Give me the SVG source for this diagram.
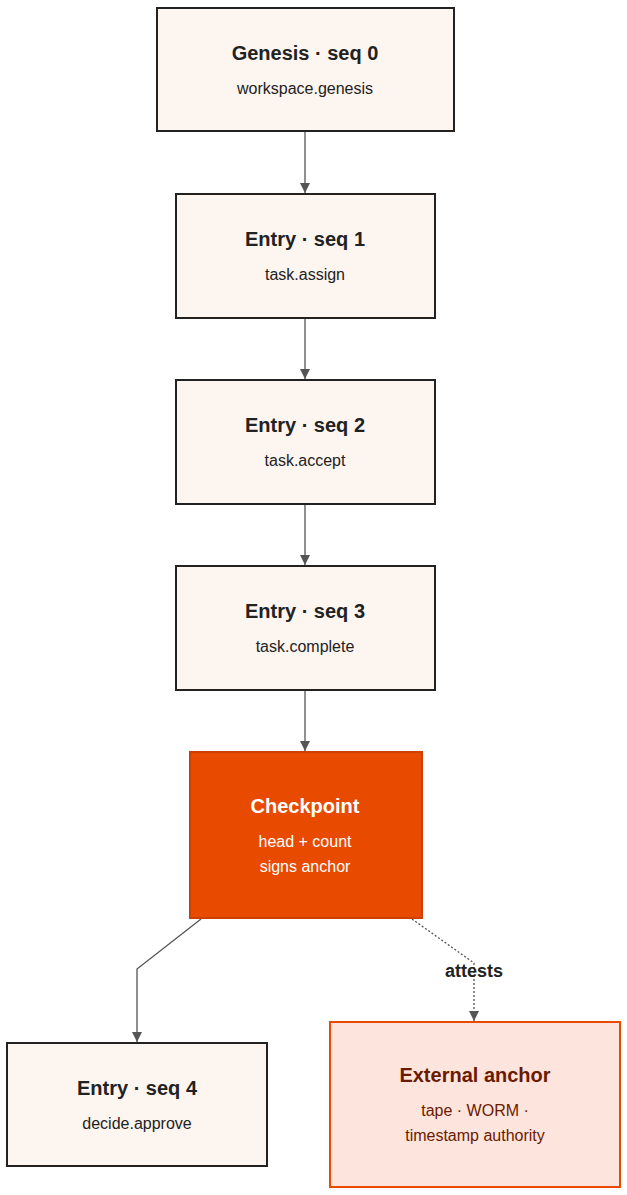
<svg xmlns="http://www.w3.org/2000/svg" width="627" height="1195" viewBox="0 0 627 1195">
<style>
text{font-family:"Liberation Sans",Arial,sans-serif;text-anchor:middle}
.t{font-size:20px;font-weight:bold;fill:#222}
.s{font-size:16px;fill:#222}
.n{fill:#fdf5f0;stroke:#222;stroke-width:2}
.c{fill:none;stroke:#555;stroke-width:1.3}
</style>
<defs><marker id="a" viewBox="0 0 10 10" refX="10" refY="5" markerWidth="8" markerHeight="8" orient="auto"><path d="M0,0L10,5L0,10z" fill="#555"/></marker></defs>
<rect width="627" height="1195" fill="#fff"/>
<g id="connectors">
<path class="c" d="M305,131V193" marker-end="url(#a)"/>
<path class="c" d="M305,318V379" marker-end="url(#a)"/>
<path class="c" d="M305,504V565" marker-end="url(#a)"/>
<path class="c" d="M305,690V751" marker-end="url(#a)"/>
<path class="c" d="M201,919L137,969V1042" marker-end="url(#a)"/>
<path class="c" d="M412,919L474,963V1021" stroke-dasharray="2,2" marker-end="url(#a)"/>
<text x="474" y="977" style="font-size:18px;font-weight:bold;fill:#222">attests</text>
</g>
<g id="n0"><rect class="n" x="157" y="8" width="297" height="123"/><text class="t" x="305" y="60">Genesis  ·  seq 0</text><text class="s" x="305" y="94">workspace.genesis</text></g>
<g id="n1"><rect class="n" x="176" y="194" width="259" height="124"/><text class="t" x="305" y="246">Entry  ·  seq 1</text><text class="s" x="305" y="280">task.assign</text></g>
<g id="n2"><rect class="n" x="176" y="380" width="259" height="124"/><text class="t" x="305" y="432">Entry  ·  seq 2</text><text class="s" x="305" y="466">task.accept</text></g>
<g id="n3"><rect class="n" x="176" y="566" width="259" height="124"/><text class="t" x="305" y="618">Entry  ·  seq 3</text><text class="s" x="305" y="652">task.complete</text></g>
<g id="cp"><rect x="190" y="752" width="232" height="166" fill="#e84a00" stroke="#cc4000" stroke-width="2"/><text class="t" x="305" y="813" style="fill:#fff">Checkpoint</text><text class="s" x="305" y="847" style="fill:#fff">head + count</text><text class="s" x="305" y="872" style="fill:#fff">signs anchor</text></g>
<g id="n4"><rect class="n" x="7" y="1043" width="260" height="123"/><text class="t" x="137" y="1095">Entry  ·  seq 4</text><text class="s" x="137" y="1129">decide.approve</text></g>
<g id="ext"><rect x="330" y="1022" width="290" height="165" fill="#fde4dc" stroke="#e84a00" stroke-width="2"/><text class="t" x="475" y="1082" style="fill:#6b1a00">External anchor</text><text class="s" x="475" y="1116" style="fill:#6b1a00">tape · WORM ·</text><text class="s" x="475" y="1141" style="fill:#6b1a00">timestamp authority</text></g>
</svg>
